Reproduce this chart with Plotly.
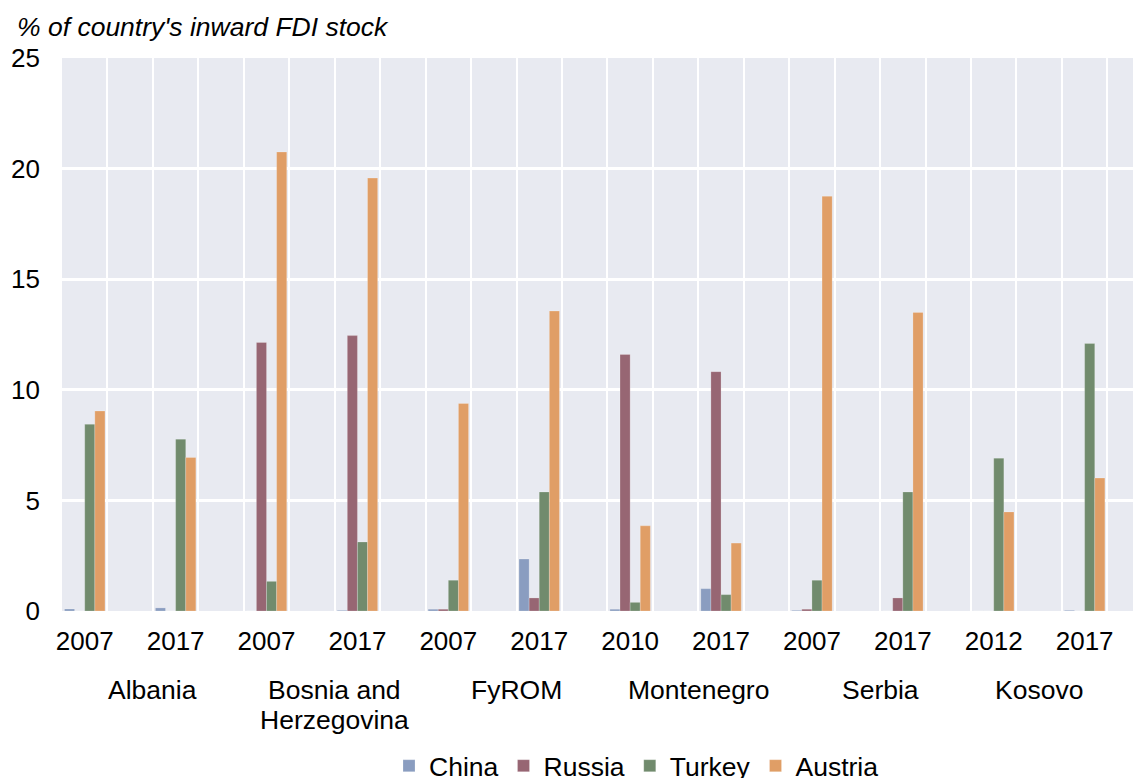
import plotly.graph_objects as go

# ---- data ----
years = ["2007", "2017", "2007", "2017", "2007", "2017",
         "2010", "2017", "2007", "2017", "2012", "2017"]
countries = ["Albania", "Bosnia and<br>Herzegovina", "FyROM",
             "Montenegro", "Serbia", "Kosovo"]
china = [0.09, 0.14, 0.0, 0.03, 0.08, 2.35, 0.08, 1.01, 0.03, 0.0, 0.0, 0.03]
russia = [0.0, 0.0, 12.14, 12.45, 0.08, 0.59, 11.6, 10.82, 0.08, 0.59, 0.0, 0.0]
turkey = [8.44, 7.77, 1.34, 3.12, 1.39, 5.38, 0.39, 0.74, 1.39, 5.38, 6.91, 12.09]
austria = [9.04, 6.94, 20.75, 19.57, 9.38, 13.56, 3.85, 3.07, 18.75, 13.5, 4.48, 6.01]

series = [("China", china, "#8A9DC0"),
          ("Russia", russia, "#976673"),
          ("Turkey", turkey, "#718B6D"),
          ("Austria", austria, "#E09E66")]

# label placement offsets (layout only)
country_offsets = [0.25, 0.25, 0.25, 0.25, 0.25, 0.0]

FONT = "Liberation Sans, Arial, sans-serif"
TICK = 26
TXT = 26.5
PH = 553.0   # plot height in px
PW = 1079.0  # plot width in px
xpos = list(range(len(years)))

fig = go.Figure()
for name, vals, col in series:
    fig.add_trace(go.Bar(
        x=xpos, y=vals, name=name,
        marker=dict(color=col, line=dict(color="rgba(255,255,255,0.35)", width=0.6)),
    ))

for i, (c, off) in enumerate(zip(countries, country_offsets)):
    for j, line in enumerate(c.split("<br>")):
        fig.add_annotation(
            x=2 * i + 0.5 + off, y=-(79 + 30 * j) / PH, xref="x", yref="paper",
            text=line, showarrow=False, xanchor="center", yanchor="middle",
            font=dict(size=TXT, color="black", family=FONT),
        )

fig.add_annotation(
    x=(15 - 62) / PW, y=1 + (58 - 27) / PH, xref="paper", yref="paper",
    text="<i>% of country's inward FDI stock</i>", showarrow=False,
    xanchor="left", yanchor="middle",
    font=dict(size=TXT, color="black", family=FONT),
)

fig.update_layout(
    width=1133, height=770,
    margin=dict(l=54, r=0, t=50, b=167, autoexpand=False),
    paper_bgcolor="white",
    plot_bgcolor="#E8EAF1",
    barmode="group",
    bargap=0.555,
    bargroupgap=0,
    font=dict(family=FONT, size=TICK, color="black"),
    showlegend=True,
    legend=dict(
        orientation="h", x=(389 - 62) / PW, xanchor="left",
        y=-131 / PH, yanchor="top",
        font=dict(size=TXT, color="black", family=FONT),
        bgcolor="rgba(0,0,0,0)", itemclick=False,
    ),
    xaxis=dict(
        range=[-0.25, 11.62], automargin=False,
        tickmode="array", tickvals=xpos, ticktext=years,
        showgrid=False, zeroline=False, showline=False,
        ticks="", ticklabelstandoff=12,
        tickfont=dict(size=TICK, color="black", family=FONT),
        minor=dict(tickmode="linear", tick0=-0.25, dtick=0.5,
                   showgrid=True, gridcolor="white", gridwidth=2, ticks=""),
    ),
    yaxis=dict(
        range=[0, 25], tickmode="linear", tick0=0, dtick=5, automargin=False,
        showgrid=True, gridcolor="white", gridwidth=2.5,
        zeroline=False, showline=False, ticks="",
        ticklabelstandoff=21,
        tickfont=dict(size=TICK, color="black", family=FONT),
    ),
)

fig.write_html("out.html")
